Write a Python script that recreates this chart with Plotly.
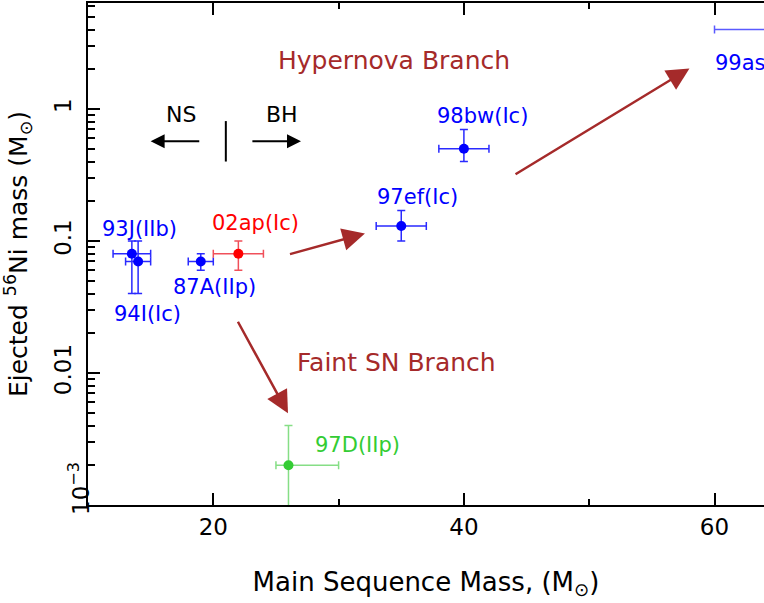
import numpy as np
import plotly.graph_objects as go

# supernova data (main sequence mass in Msun, ejected 56Ni in Msun)
names = ["93J(IIb)", "94I(Ic)", "87A(IIp)", "02ap(Ic)", "97ef(Ic)", "98bw(Ic)", "97D(IIp)", "99as"]
mass = [13.5, 14, 19, 22, 35, 40, 26, 70]
mass_minus = [1.5, 1, 1, 2, 2, 2, 1, 10]
mass_plus = [1.5, 1, 1, 2, 2, 2, 4, 10]
ni = [0.08, 0.07, 0.07, 0.08, 0.13, 0.5, 0.002, 4.0]
ni_minus = [0.04, 0.03, 0.01, 0.02, 0.03, 0.1, 0.0012, 0]
ni_plus = [0.02, 0.03, 0.01, 0.02, 0.04, 0.2, 0.002, 0]

y_tickvals = [0.001, 0.01, 0.1, 1]
y_ticktext = ["", "0.01", "0.1", "1"]   # 10^-3 is placed by hand (sits above the corner)

# colours: (marker, error bars)
style = {
    "93J(IIb)": ("#0000ff", "#2a2aff"),
    "94I(Ic)": ("#0000ff", "#2a2aff"),
    "87A(IIp)": ("#0000ff", "#2a2aff"),
    "02ap(Ic)": ("#ff0000", "#f0505a"),
    "97ef(Ic)": ("#0000ff", "#2a2aff"),
    "98bw(Ic)": ("#0000ff", "#2a2aff"),
    "97D(IIp)": ("#33cc33", "#86de86"),
    "99as": ("#0000ff", "#5a5aff"),
}
# label offsets from the point in px: (xshift, yshift, xanchor)
label_pos = {
    "93J(IIb)": (8, 25, "center"),
    "94I(Ic)": (9, -53, "center"),
    "87A(IIp)": (14, -26, "center"),
    "02ap(Ic)": (17, 31, "center"),
    "97ef(Ic)": (16, 29, "center"),
    "98bw(Ic)": (19, 33, "center"),
    "97D(IIp)": (25, 20, "left"),
}

FONT = "DejaVu Sans"
BRANCH = "#a52a2a"

fig = go.Figure()
for i, n in enumerate(names):
    mc, ec = style[n]
    fig.add_trace(go.Scatter(
        x=[mass[i]], y=[ni[i]], mode="markers",
        marker=dict(size=10, color=mc),
        error_x=dict(type="data", array=[mass_plus[i]], arrayminus=[mass_minus[i]],
                     color=ec, thickness=1.5, width=4),
        error_y=dict(type="data", array=[ni_plus[i]], arrayminus=[ni_minus[i]],
                     color=ec, thickness=1.5, width=4, visible=ni_plus[i] > 0),
        showlegend=False,
    ))

ann = []
for i, n in enumerate(names):
    mc, _ = style[n]
    if n == "99as":
        ann.append(dict(x=mass[i] - mass_minus[i], y=np.log10(ni[i]), text=n, showarrow=False,
                        xanchor="left", yshift=-33, xshift=-2,
                        font=dict(family=FONT, size=21, color=mc)))
        continue
    xs, ys, xa = label_pos[n]
    ann.append(dict(x=mass[i], y=np.log10(ni[i]), text=n, showarrow=False,
                    xanchor=xa, xshift=xs, yshift=ys,
                    font=dict(family=FONT, size=21, color=mc)))

# branch arrows: (tail x, tail y, head x, head y)
branch_arrows = [
    (26.0, 0.079, 32.1, 0.114),
    (44.0, 0.315, 58.0, 2.03),
    (21.9, 0.0251, 25.96, 0.00495),
]
for tx, ty, hx, hy in branch_arrows:
    ann.append(dict(x=hx, y=np.log10(hy), ax=tx, ay=np.log10(ty), axref="x", ayref="y",
                    xref="x", yref="y", text="", showarrow=True, arrowhead=2,
                    arrowsize=1.8, arrowwidth=2.5, arrowcolor=BRANCH, standoff=0))

# NS / BH arrows
for tx, hx in [(19.0, 15.0), (23.0, 27.0)]:
    ann.append(dict(x=hx, y=np.log10(0.57), ax=tx, ay=np.log10(0.57), axref="x", ayref="y",
                    text="", showarrow=True, arrowhead=2, arrowsize=1.4, arrowwidth=2,
                    arrowcolor="black", standoff=0))
ann.append(dict(x=17.45, y=np.log10(0.91), text="NS", showarrow=False,
                font=dict(family=FONT, size=22, color="black")))
ann.append(dict(x=25.45, y=np.log10(0.91), text="BH", showarrow=False,
                font=dict(family=FONT, size=22, color="black")))
ann.append(dict(x=34.4, y=np.log10(2.34), text="Hypernova Branch", showarrow=False,
                font=dict(family=FONT, size=25, color=BRANCH)))
ann.append(dict(x=34.6, y=np.log10(0.012), text="Faint SN Branch", showarrow=False,
                font=dict(family=FONT, size=25, color=BRANCH)))
# bottom y tick label, lifted off the corner
ann.append(dict(xref="paper", x=0, xshift=-26, y=-3, yshift=16, text="10<sup>\u22123</sup>",
                textangle=-90, showarrow=False, font=dict(family=FONT, size=23, color="black")))

fig.add_shape(type="line", x0=21, x1=21, y0=0.40, y1=0.81, xref="x", yref="y",
              line=dict(color="black", width=2))

minor_y = [m * 10.0 ** e for e in range(-3, 1) for m in range(2, 10)]

fig.update_layout(
    width=764, height=603,
    margin=dict(l=88, r=0, t=3, b=98),
    plot_bgcolor="white", paper_bgcolor="white",
    annotations=ann,
    font=dict(family=FONT, color="black"),
    xaxis=dict(
        range=[10, 63.95], showgrid=False, zeroline=False, automargin=False,
        showline=True, linecolor="black", linewidth=2, mirror="ticks",
        ticks="inside", ticklen=12, tickwidth=2, tickcolor="black",
        tick0=0, dtick=20,
        minor=dict(ticks="inside", ticklen=6, tickwidth=2, tickcolor="black", dtick=10, tick0=0),
        tickfont=dict(family=FONT, size=23),
        title=dict(text="Main Sequence Mass, (M<sub>\u2299</sub>)",
                   font=dict(family=FONT, size=26), standoff=34),
    ),
    yaxis=dict(
        type="log", range=[-3, 0.803], showgrid=False, zeroline=False, automargin=False,
        showline=True, linecolor="black", linewidth=2,
        ticks="inside", ticklen=12, tickwidth=2, tickcolor="black",
        tickmode="array", tickvals=y_tickvals, ticktext=y_ticktext,
        minor=dict(ticks="inside", ticklen=7, tickwidth=2, tickcolor="black",
                   tickmode="array", tickvals=minor_y),
        tickangle=-90, ticklabelstandoff=6,
        tickfont=dict(family=FONT, size=23),
        title=dict(text="Ejected <sup>56</sup>Ni mass (M<sub>\u2299</sub>)",
                   font=dict(family=FONT, size=25), standoff=16),
    ),
)

# page body has a default 8px margin; drop it so the figure sits at the window corner
fig.write_html("out.html", config={"displayModeBar": False},
               post_script="document.body.style.margin='0';")
